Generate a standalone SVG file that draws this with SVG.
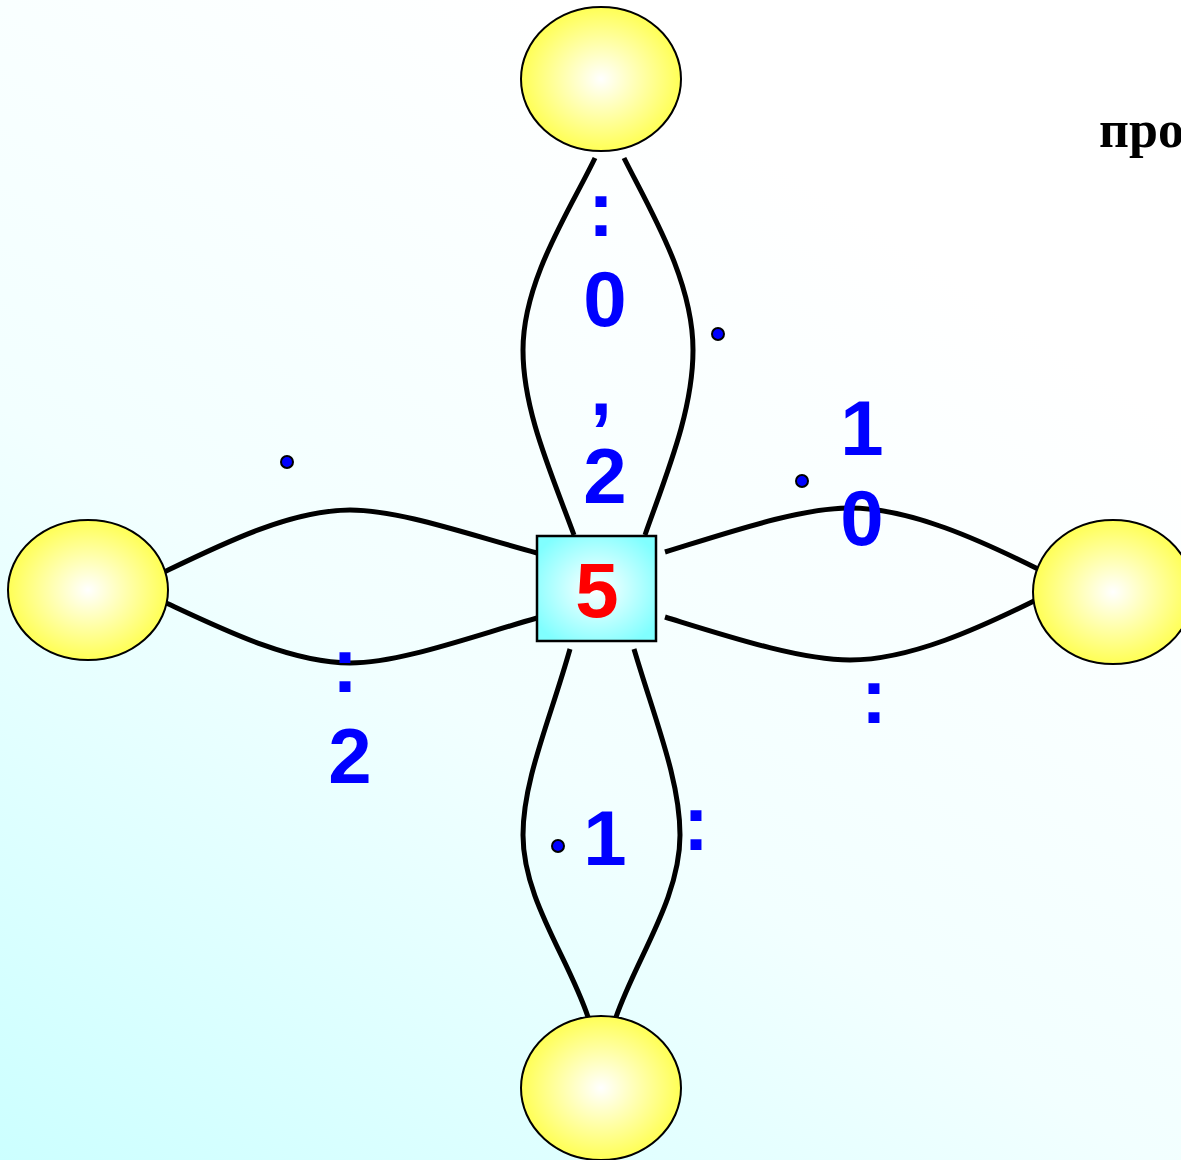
<svg xmlns="http://www.w3.org/2000/svg" width="1181" height="1160" viewBox="0 0 1181 1160">
<defs>
<linearGradient id="bg" x1="0.6" y1="0.1" x2="0" y2="1">
<stop offset="0" stop-color="#ffffff"/>
<stop offset="0.5" stop-color="#f2ffff"/>
<stop offset="1" stop-color="#ccffff"/>
</linearGradient>
<radialGradient id="sun" cx="0.5" cy="0.5" r="0.5">
<stop offset="0" stop-color="#ffffff"/>
<stop offset="1" stop-color="#ffff55"/>
</radialGradient>
<radialGradient id="boxg" cx="0.5" cy="0.5" r="0.6">
<stop offset="0" stop-color="#ffffff"/>
<stop offset="1" stop-color="#80ffff"/>
</radialGradient>
<style>
.sun{fill:url(#sun);stroke:#000;stroke-width:2}
.c{fill:none;stroke:#000;stroke-width:5}
.lab{font-family:"Liberation Sans",Arial,sans-serif;font-weight:bold;font-size:78px;fill:#0000ff;text-anchor:middle}
.dot{fill:#0000ff;stroke:#000;stroke-width:2}
</style>
</defs>
<rect width="1181" height="1160" fill="url(#bg)"/>
<g id="connectors">
<path class="c" d="M574,535 C550,470 523,410 523,350 C523,280 570,210 595,158"/>
<path class="c" d="M645,535 C668,470 693,410 693,350 C693,280 650,210 624,158"/>
<path class="c" d="M570,649 C550,720 523,780 523,835 C523,900 570,960 589,1020"/>
<path class="c" d="M634,649 C655,720 680,780 680,835 C680,900 635,960 615,1020"/>
<path class="c" d="M537,553 C470,535 400,510 350,510 C290,510 220,545 162,573"/>
<path class="c" d="M537,618 C470,637 400,663 350,663 C290,663 220,628 162,601"/>
<path class="c" d="M665,552 C730,532 800,508 850,508 C910,508 980,540 1040,570"/>
<path class="c" d="M665,617 C730,637 800,660 850,660 C910,660 980,628 1040,598"/>
</g>
<g id="top"><ellipse class="sun" cx="601" cy="79" rx="80" ry="72"/></g>
<g id="left"><ellipse class="sun" cx="88" cy="590" rx="80" ry="70"/></g>
<g id="right"><ellipse class="sun" cx="1113" cy="592" rx="80" ry="72"/></g>
<g id="bottom"><ellipse class="sun" cx="601" cy="1088" rx="80" ry="72"/></g>
<g id="center">
<rect x="537" y="536" width="119" height="105" fill="url(#boxg)" stroke="#000" stroke-width="2.5"/>
<text x="597" y="617" style="font-family:'Liberation Sans',Arial,sans-serif;font-weight:bold;font-size:78px;fill:#ff0000;text-anchor:middle">5</text>
</g>
<g id="labels">
<text class="lab" x="601" y="236">:</text>
<text class="lab" x="605" y="326">0</text>
<text class="lab" x="601" y="415">,</text>
<text class="lab" x="605" y="503">2</text>
<text class="lab" x="345" y="692">:</text>
<text class="lab" x="350" y="783">2</text>
<text class="lab" x="862" y="455">1</text>
<text class="lab" x="862" y="545">0</text>
<text class="lab" x="874" y="723">:</text>
<text class="lab" x="605" y="865">1</text>
<text class="lab" x="696" y="850">:</text>
<circle class="dot" cx="718" cy="334" r="6"/>
<circle class="dot" cx="287" cy="462" r="6"/>
<circle class="dot" cx="802" cy="481" r="6"/>
<circle class="dot" cx="558" cy="846" r="6"/>
<text x="1099" y="147" style="font-family:'Liberation Serif','Times New Roman',serif;font-weight:bold;font-size:52px;fill:#000">про</text>
</g>
</svg>
